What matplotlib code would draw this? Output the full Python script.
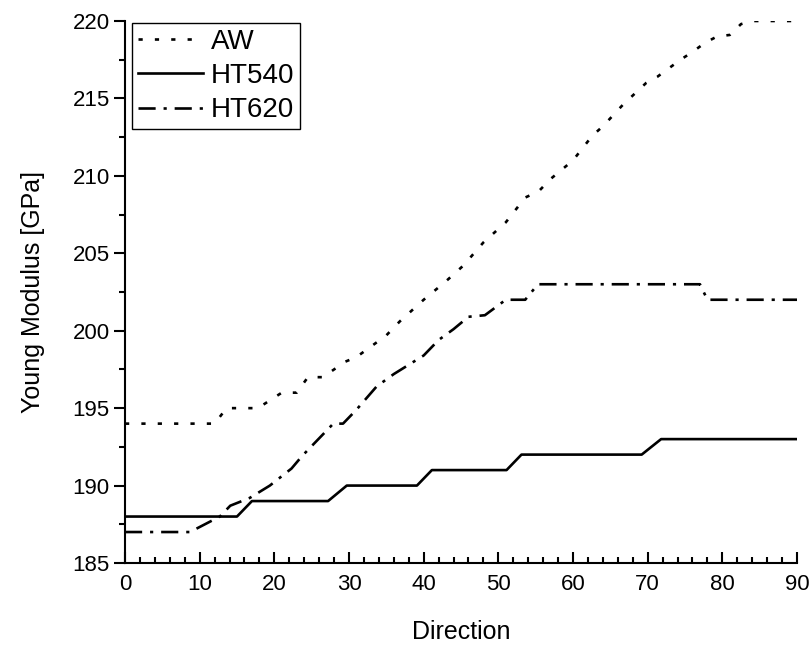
import matplotlib
matplotlib.use("Agg")
import matplotlib.pyplot as plt
from matplotlib.ticker import MultipleLocator

plt.rcParams['font.family'] = ['Liberation Sans', 'DejaVu Sans']

# AW (dotted)
aw_x = [0, 12, 13.6, 17.8, 21, 23, 24.5, 26.5, 29.5, 31, 33, 35, 36.8, 40, 43, 45.3,
        48, 51, 53.6, 55.4, 57, 60, 62.6, 64, 66.7, 69.8, 71.3, 74.4, 76, 77.7,
        79.3, 81, 82.5, 84, 90]
aw_y = [194, 194, 195, 195, 196, 196, 197, 197, 198, 198.3, 199, 199.7, 200.6, 202,
        203.2, 204.2, 205.7, 207, 208.6, 209, 209.8, 211, 212.6, 213.2, 214.6, 216,
        216.4, 217.5, 218, 218.6, 219, 219.1, 219.8, 220, 220]

# HT540 (solid)
ht540_x = [0, 15, 17, 27.2, 29.7, 39.1, 41.1, 51.1, 53.1, 69.2, 71.8, 90]
ht540_y = [188, 188, 189, 189, 190, 190, 191, 191, 192, 192, 193, 193]

# HT620 (dash-dot)
ht620_x = [0, 8.7, 12.7, 14.1, 16.7, 19.4, 22.3, 23.7, 25.7, 27.9, 29.2, 31, 33.7,
           36, 38, 40, 42, 44, 46, 48.2, 49.6, 51, 53.6, 55.3, 77, 78, 90]
ht620_y = [187, 187, 188, 188.7, 189.2, 190, 191.1, 191.9, 192.9, 194, 194, 194.9,
           196.4, 197.2, 197.8, 198.4, 199.4, 200.1, 200.9, 201, 201.5, 202, 202, 203,
           203, 202, 202]

fig = plt.figure(figsize=(8.11, 6.52), dpi=100)
ax = fig.add_axes([125/811, 1 - 563/652, (797 - 125)/811, (563 - 21)/652])

lw = 1.9
ax.plot(aw_x, aw_y, color='black', lw=lw, linestyle=(0, (1.6, 4.6)), label='AW')
ax.plot(ht540_x, ht540_y, color='black', lw=lw, linestyle='-', label='HT540')
ax.plot(ht620_x, ht620_y, color='black', lw=lw, linestyle=(0, (6.5, 3.0, 1.2, 3.0)), label='HT620')

ax.set_xlim(0, 90)
ax.set_ylim(185, 220)
ax.xaxis.set_major_locator(MultipleLocator(10))
ax.xaxis.set_minor_locator(MultipleLocator(2))
ax.yaxis.set_major_locator(MultipleLocator(5))
ax.yaxis.set_minor_locator(MultipleLocator(2.5))

for s in ['top', 'right']:
    ax.spines[s].set_visible(False)
for s in ['left', 'bottom']:
    ax.spines[s].set_linewidth(1.5)

ax.tick_params(axis='x', which='major', direction='in', length=8, width=1.5, labelsize=16, pad=8)
ax.tick_params(axis='x', which='minor', direction='in', length=4, width=1.5)
ax.tick_params(axis='y', which='major', direction='out', length=8, width=1.5, labelsize=16, pad=3)
ax.tick_params(axis='y', which='minor', direction='out', length=4, width=1.5)

ax.set_xlabel('Direction', fontsize=18, labelpad=18)
ax.set_ylabel('Young Modulus [GPa]', fontsize=18, labelpad=20)

leg = ax.legend(loc='upper left', bbox_to_anchor=(7/672, 1 - 2/542), borderaxespad=0.0,
                fontsize=20, frameon=True, fancybox=False, framealpha=1,
                edgecolor='black', handlelength=2.35, handletextpad=0.28,
                labelspacing=0.3, borderpad=0.2)
leg.get_frame().set_linewidth(1.0)

fig.savefig('out.png', dpi=100)
